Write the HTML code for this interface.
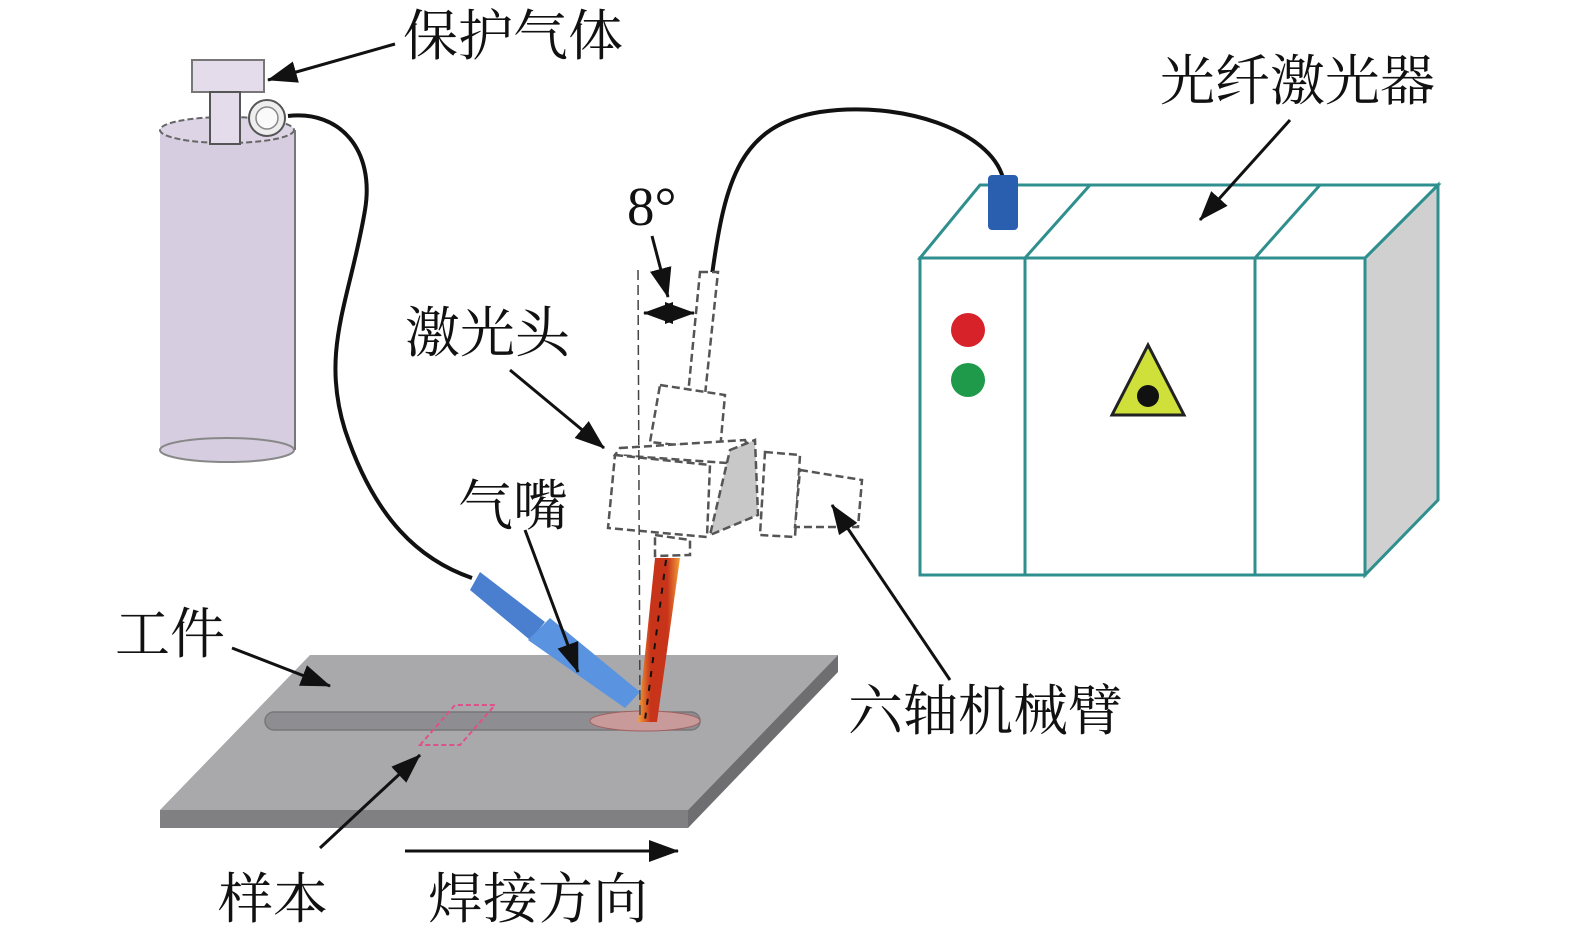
<!DOCTYPE html>
<html><head><meta charset="utf-8"><style>
body{margin:0;background:#fff}
text{font-family:"Liberation Serif","Noto Serif CJK SC",serif;font-size:55px;fill:#111}
</style></head><body>
<svg width="1575" height="945" viewBox="0 0 1575 945" xmlns="http://www.w3.org/2000/svg">
<defs>
<marker id="b" markerWidth="30" markerHeight="22" refX="29" refY="11" orient="auto" markerUnits="userSpaceOnUse"><path d="M0,0L30,11L0,22z" fill="#111"/></marker>
<marker id="s" markerWidth="30" markerHeight="22" refX="1" refY="11" orient="auto" markerUnits="userSpaceOnUse"><path d="M30,0L0,11L30,22z" fill="#111"/></marker>
<linearGradient id="beam" x1="0" x2="1"><stop offset="0" stop-color="#f3a03a"/><stop offset=".3" stop-color="#c8341a"/><stop offset=".7" stop-color="#c8341a"/><stop offset="1" stop-color="#f3a03a"/></linearGradient>
</defs>
<rect x="160" y="130" width="135" height="320" fill="#d6cde0"/>
<ellipse cx="227" cy="450" rx="67" ry="12" fill="#d6cde0" stroke="#888" stroke-width="2"/>
<ellipse cx="227" cy="130" rx="67" ry="13" fill="#ddd5e6" stroke="#666" stroke-width="2" stroke-dasharray="6 3"/>
<line x1="295" y1="130" x2="295" y2="450" stroke="#777" stroke-width="2"/>
<rect x="192" y="60" width="72" height="32" fill="#e4dcea" stroke="#777" stroke-width="2"/>
<rect x="210" y="92" width="30" height="52" fill="#e4dcea" stroke="#555" stroke-width="2"/>
<circle cx="267" cy="118" r="18" fill="#eee" stroke="#555" stroke-width="2"/>
<circle cx="267" cy="118" r="11" fill="#fafafa" stroke="#888" stroke-width="1.5"/>
<path d="M288,116 C340,110 375,150 365,210 C350,300 320,350 345,430 C375,520 420,560 472,578" fill="none" stroke="#111" stroke-width="4"/>
<path d="M1003,178 C990,130 900,100 820,112 C740,125 725,180 712,275" fill="none" stroke="#111" stroke-width="4"/>
<g stroke="#2f8f8f" stroke-width="3">
<polygon points="1365,258 1438,185 1438,500 1365,575" fill="#d0d0d0"/>
<polygon points="920,258 980,185 1438,185 1365,258" fill="#fff"/>
<rect x="920" y="258" width="445" height="317" fill="#fff"/>
<line x1="1025" y1="258" x2="1025" y2="575"/><line x1="1255" y1="258" x2="1255" y2="575"/>
<line x1="1025" y1="258" x2="1090" y2="185"/><line x1="1255" y1="258" x2="1320" y2="185"/>
</g>
<rect x="988" y="175" width="30" height="55" rx="4" fill="#2a5fb0"/>
<circle cx="968" cy="330" r="17" fill="#d8222a"/>
<circle cx="968" cy="380" r="17" fill="#1f9a4a"/>
<polygon points="1148,345 1112,415 1184,415" fill="#cfe03a" stroke="#222" stroke-width="3"/>
<circle cx="1148" cy="396" r="11" fill="#111"/>
<polygon points="160,810 688,810 838,655 310,655" fill="#a9a9ab"/>
<polygon points="160,810 688,810 688,828 160,828" fill="#808082"/>
<polygon points="688,810 838,655 838,672 688,828" fill="#6e6e70"/>
<rect x="265" y="712" width="435" height="18" rx="9" fill="#8e8e92" stroke="#777" stroke-width="1.5"/>
<ellipse cx="645" cy="721" rx="55" ry="10" fill="#c89a9a" stroke="#a06060"/>
<polygon points="420,745 455,705 495,705 460,745" fill="none" stroke="#e0508a" stroke-width="2" stroke-dasharray="5 3"/>
<polygon points="470,590 480,572 545,622 530,640" fill="#4a7fd0"/>
<polygon points="528,640 550,618 640,692 625,708" fill="#5a93e0"/>
<polygon points="655,558 680,558 657,722 638,722" fill="url(#beam)"/>
<line x1="666" y1="560" x2="645" y2="720" stroke="#111" stroke-width="2" stroke-dasharray="6 8"/>
<g fill="#fff" stroke="#555" stroke-width="2.5" stroke-dasharray="8 4">
<polygon points="700,272 718,272 705,395 688,395"/>
<polygon points="660,385 725,395 720,450 650,442"/>
<polygon points="620,448 745,440 755,465 615,455" />
<polygon points="730,450 755,440 758,515 710,535" fill="#c8c8c8"/>
<polygon points="615,455 710,465 707,537 608,528"/>
<polygon points="765,452 800,455 795,537 760,535"/>
<polygon points="800,470 862,480 858,527 795,527"/>
<polygon points="655,535 690,540 690,555 655,556"/>
</g>
<line x1="638" y1="270" x2="640" y2="720" stroke="#444" stroke-width="1.5" stroke-dasharray="10 5"/>
<line x1="644" y1="313" x2="694" y2="313" stroke="#111" stroke-width="3" marker-start="url(#s)" marker-end="url(#b)"/>
<g stroke="#111" stroke-width="3" fill="none" marker-end="url(#b)">
<line x1="395" y1="44" x2="268" y2="80"/>
<line x1="1290" y1="120" x2="1200" y2="220"/>
<line x1="652" y1="236" x2="668" y2="297"/>
<line x1="510" y1="370" x2="604" y2="448"/>
<line x1="525" y1="530" x2="578" y2="672"/>
<line x1="950" y1="680" x2="832" y2="505"/>
<line x1="232" y1="648" x2="330" y2="686"/>
<line x1="320" y1="848" x2="420" y2="755"/>
<line x1="405" y1="851" x2="678" y2="851"/>
</g>
<text x="403" y="55">保护气体</text>
<text x="1160" y="100">光纤激光器</text>
<text x="627" y="225">8°</text>
<text x="405" y="352">激光头</text>
<text x="458" y="525">气嘴</text>
<text x="115" y="653">工件</text>
<text x="848" y="730">六轴机械臂</text>
<text x="218" y="918">样本</text>
<text x="428" y="918">焊接方向</text>
</svg>
</body></html>
